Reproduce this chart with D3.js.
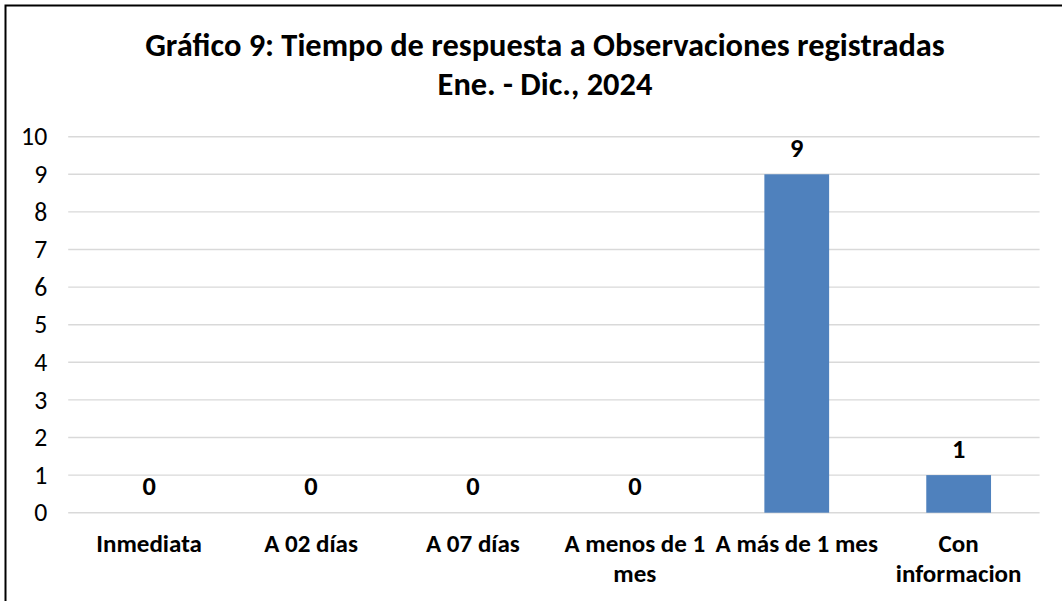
<!DOCTYPE html>
<html>
<head>
<meta charset="utf-8">
<script src="https://cdn.jsdelivr.net/npm/d3@7/dist/d3.min.js"></script>
<style>
  html, body { margin: 0; padding: 0; background: #fff; }
  svg { display: block; }
  text { font-family: Carlito, Calibri, Lato, sans-serif; }
</style>
</head>
<body>
<svg id="chart" width="1062" height="601"></svg>
<script>
const categories = ["Inmediata", "A 02 días", "A 07 días", "A menos de 1 mes", "A más de 1 mes", "Con informacion"];
const categoryLines = [["Inmediata"], ["A 02 días"], ["A 07 días"], ["A menos de 1", "mes"], ["A más de 1 mes"], ["Con", "informacion"]];
const values = [0, 0, 0, 0, 9, 1];
const yTicks = [0, 1, 2, 3, 4, 5, 6, 7, 8, 9, 10];
const titleLines = ["Gráfico 9: Tiempo de respuesta a Observaciones registradas", "Ene. - Dic., 2024"];

const svg = d3.select("#chart");
const W = 1062, H = 601;
const plot = { left: 68.2, right: 1039.6, top: 136.7, bottom: 512.7 };

// measure font scale so the title width matches the reference (~800px at base 29px)
const probe = svg.append("text").attr("font-size", 29).attr("font-weight", "bold").text(titleLines[0]);
const measured = probe.node().getComputedTextLength();
probe.remove();
const fs = 800 / measured;

const x = d3.scaleBand().domain(categories).range([plot.left, plot.right]).paddingInner(0.6).paddingOuter(0.3);
const y = d3.scaleLinear().domain([0, 10]).range([plot.bottom, plot.top]);

// border (chart area frame, clipped by the picture on right/bottom)
svg.append("rect").attr("x", 5.5).attr("y", 5.5).attr("width", W + 20).attr("height", H + 20)
  .attr("fill", "none").attr("stroke", "#000").attr("stroke-width", 2);

// title
svg.append("g").selectAll("text").data(titleLines).join("text")
  .attr("x", 545).attr("y", (d, i) => 56 + i * 39)
  .attr("text-anchor", "middle").attr("font-weight", "bold")
  .attr("font-size", 29 * fs).attr("fill", "#000").text(d => d);

// gridlines
svg.append("g").selectAll("line").data(yTicks).join("line")
  .attr("x1", plot.left).attr("x2", plot.right)
  .attr("y1", d => y(d)).attr("y2", d => y(d))
  .attr("stroke", "#d9d9d9").attr("stroke-width", 1.4);

// y axis
const yAxis = d3.axisLeft(y).tickValues(yTicks).tickSize(0).tickPadding(21).tickFormat(d3.format("d"));
const gy = svg.append("g").attr("transform", `translate(${plot.left},0)`).call(yAxis);
gy.select(".domain").remove();
gy.selectAll("text").attr("font-size", 23 * fs).attr("fill", "#000")
  .style("font-family", "Carlito, Calibri, Lato, sans-serif");

// bars
svg.append("g").selectAll("rect").data(values).join("rect")
  .attr("x", (d, i) => x(categories[i]))
  .attr("width", x.bandwidth())
  .attr("y", d => y(d))
  .attr("height", d => y(0) - y(d))
  .attr("fill", "#4f81bd");

// data labels
svg.append("g").selectAll("text").data(values).join("text")
  .attr("x", (d, i) => x(categories[i]) + x.bandwidth() / 2)
  .attr("y", d => y(d) - 17.5)
  .attr("text-anchor", "middle").attr("font-weight", "bold")
  .attr("font-size", 23.6 * fs).attr("fill", "#000").text(d => d);

// x axis category labels
const gx = svg.append("g");
categoryLines.forEach((lines, i) => {
  const t = gx.append("text")
    .attr("x", x(categories[i]) + x.bandwidth() / 2)
    .attr("y", 551.7)
    .attr("text-anchor", "middle").attr("font-weight", "bold")
    .attr("font-size", 22.4 * fs).attr("fill", "#000");
  lines.forEach((ln, j) => {
    t.append("tspan").attr("x", x(categories[i]) + x.bandwidth() / 2)
      .attr("dy", j === 0 ? 0 : 30).text(ln);
  });
});
</script>
</body>
</html>
